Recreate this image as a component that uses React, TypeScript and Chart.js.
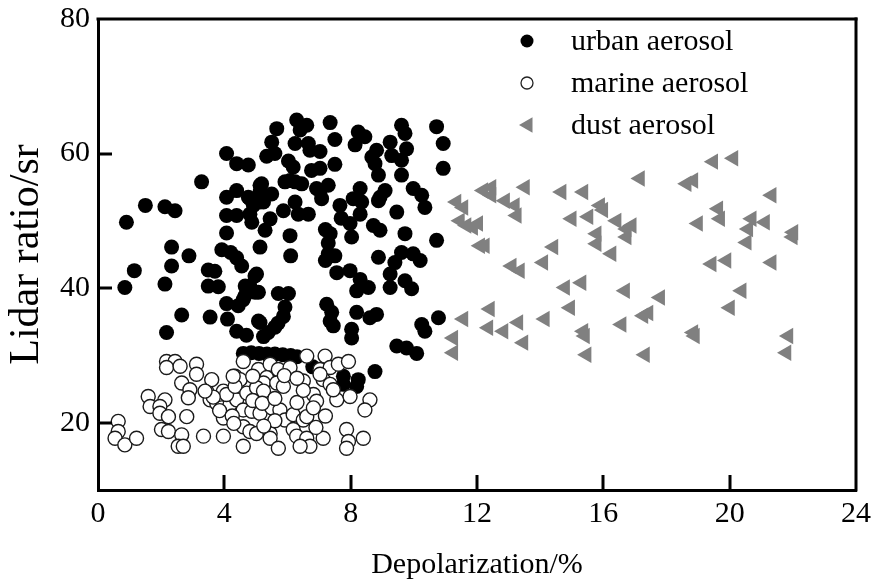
import React, { useEffect, useRef } from 'react';
import { Chart, registerables } from 'chart.js';

Chart.register(...registerables);

const seriesLabels = ['urban aerosol', 'marine aerosol', 'dust aerosol'];
const xTicks = [0, 4, 8, 12, 16, 20, 24];
const yTicks = [20, 40, 60, 80];
const xTitle = 'Depolarization/%';
const yTitle = 'Lidar ratio/sr';

const urbanPoints: number[][] = [
  [0.9, 49.8], [0.85, 40.1], [1.15, 42.6], [1.5, 52.3], [2.12, 52.1], [2.44, 51.5], [2.33, 46.1], [2.33, 43.3],
  [2.12, 40.6], [2.88, 44.8], [2.65, 36.0], [2.17, 33.4], [3.28, 55.8], [3.49, 42.7], [3.7, 42.5], [3.49, 40.3],
  [3.81, 40.2], [3.55, 35.7],
  [4.07, 60.0], [4.39, 58.5], [4.76, 58.3], [4.07, 53.5], [4.39, 54.5], [4.07, 50.8], [4.39, 50.8], [4.07, 48.2],
  [3.92, 45.7], [4.2, 45.3], [4.39, 44.5], [4.55, 43.3], [4.07, 37.7], [4.1, 35.4], [4.39, 33.6], [4.7, 33.0],
  [4.6, 38.3], [4.44, 37.4], [4.66, 40.3], [4.81, 40.3], [4.97, 41.8], [5.02, 42.1], [4.97, 39.4], [5.08, 39.4],
  [5.13, 46.1], [5.08, 35.1], [5.13, 34.9], [4.81, 53.3], [4.76, 53.5], [4.92, 52.3], [4.87, 49.8], [4.81, 51.0],
  [5.13, 55.3], [5.13, 54.3], [5.18, 55.5], [5.24, 52.8], [5.13, 52.8], [5.29, 48.6], [5.5, 54.0], [5.45, 50.3],
  [5.34, 59.6], [5.6, 60.0], [5.66, 63.7], [5.5, 61.7], [6.03, 58.9], [6.18, 58.0], [6.08, 56.0], [5.92, 55.8],
  [6.24, 55.8], [6.45, 55.5], [6.29, 65.0], [6.61, 64.2], [6.4, 63.5], [6.24, 61.5], [6.66, 61.5], [6.71, 60.5],
  [7.03, 60.3], [7.03, 57.8], [6.76, 57.5], [7.35, 64.6], [7.5, 62.1], [7.5, 58.4], [5.87, 51.5], [6.24, 52.8],
  [6.34, 51.0], [6.66, 51.0], [6.92, 54.8], [7.03, 54.5], [7.29, 55.3], [7.08, 53.3], [7.66, 52.3], [7.7, 50.4],
  [6.08, 47.8], [6.1, 44.8], [7.2, 48.7], [7.29, 46.7], [7.2, 44.1], [7.5, 44.8], [7.56, 42.3], [7.24, 37.6],
  [7.35, 35.1], [7.4, 36.4], [7.45, 34.4], [5.71, 39.2], [6.03, 39.2], [5.92, 37.2], [5.87, 35.8], [5.7, 34.8],
  [5.6, 34.2], [5.39, 33.4], [5.24, 32.8], [4.66, 38.9],
  [4.6, 30.3], [4.85, 30.4], [5.1, 30.3], [5.35, 30.2], [5.6, 30.2], [5.85, 30.1], [6.1, 30.0], [6.3, 29.8],
  [8.24, 63.2], [8.45, 62.5], [8.14, 61.3], [8.82, 60.5], [8.67, 59.5], [8.77, 58.5], [9.25, 61.7], [9.3, 59.7],
  [9.61, 64.2], [9.72, 63.0], [9.77, 60.7], [9.61, 59.0], [9.61, 56.8], [8.88, 56.8], [10.72, 64.0], [10.93, 61.5],
  [10.93, 57.8], [8.3, 54.8], [8.08, 53.3], [8.35, 52.8], [8.3, 51.0], [8.93, 53.5], [9.09, 54.5], [8.88, 53.0],
  [7.98, 49.6], [8.03, 47.6], [7.35, 48.1], [8.72, 49.3], [8.93, 48.6], [9.46, 51.3], [9.98, 54.8], [10.25, 53.8],
  [10.35, 52.0], [9.72, 48.1], [10.72, 47.1], [8.88, 44.6], [9.61, 45.3], [9.4, 43.8], [9.98, 45.1], [10.2, 44.1],
  [9.25, 42.1], [9.72, 41.1], [9.25, 40.1], [9.93, 39.9], [7.98, 42.6], [8.3, 41.3], [8.19, 39.6], [8.56, 40.1],
  [7.29, 45.1], [8.03, 33.9], [8.19, 36.4], [8.61, 35.6], [8.82, 36.1], [8.03, 32.6], [10.25, 34.6], [10.35, 33.6],
  [10.78, 35.6], [9.46, 31.4], [9.77, 31.1], [10.09, 30.3], [8.77, 27.6], [8.24, 26.4], [8.19, 25.4], [7.77, 26.9],
  [7.77, 25.7], [6.8, 28.3],
];

const marinePoints: number[][] = [
  [2.17, 29.1], [2.44, 29.1], [2.17, 28.2], [2.6, 28.4], [3.12, 28.7], [3.12, 27.2], [2.65, 25.9], [2.91, 24.9],
  [2.86, 23.7], [1.59, 23.9], [2.12, 23.4], [1.65, 22.4], [1.96, 22.4], [1.96, 21.4], [2.23, 20.9], [2.81, 20.9],
  [0.64, 20.2], [0.64, 18.7], [0.54, 17.7], [0.85, 16.7], [1.22, 17.7], [2.01, 19.0], [2.23, 18.7], [2.65, 18.2],
  [2.54, 16.5], [2.7, 16.5], [3.34, 18.0], [3.97, 18.0], [4.6, 16.5], [3.44, 24.7], [3.55, 23.4], [3.76, 22.9],
  [3.92, 22.2], [4.02, 21.2], [3.97, 20.7], [4.18, 22.7], [4.39, 23.4], [3.97, 24.7], [4.07, 24.2], [4.34, 26.9],
  [4.5, 26.4], [4.34, 25.4], [4.71, 24.4], [4.6, 29.1], [5.08, 27.9], [5.45, 28.7], [5.71, 27.9], [6.08, 28.2],
  [5.34, 26.7], [5.24, 25.9], [5.66, 25.9], [5.87, 25.4], [5.02, 25.2], [5.24, 24.7], [4.6, 21.9], [4.87, 21.7],
  [5.13, 21.4], [5.5, 22.2], [5.76, 21.9], [5.92, 20.4], [6.18, 21.2], [6.5, 20.4], [6.61, 20.9], [4.6, 19.4],
  [4.81, 18.7], [5.02, 18.4], [5.45, 18.4], [5.45, 17.7], [6.18, 19.0], [6.29, 18.0], [6.61, 17.7], [6.71, 16.5],
  [5.71, 16.2], [6.4, 16.5], [7.13, 17.7], [7.87, 19.0], [7.93, 17.2], [7.87, 16.2], [8.4, 17.7], [6.61, 29.9],
  [7.19, 29.9], [7.03, 27.9], [7.35, 28.2], [7.61, 28.7], [7.93, 29.1], [6.5, 26.2], [7.13, 26.4], [7.35, 25.7],
  [6.82, 24.2], [6.92, 23.2], [6.82, 22.2], [7.56, 23.4], [7.98, 23.9], [8.61, 23.4], [8.45, 21.9], [7.45, 24.9],
  [3.65, 23.8], [3.85, 21.8], [4.25, 21.0], [4.9, 23.3], [5.2, 22.9], [5.6, 23.6], [6.3, 23.0], [6.5, 24.8],
  [5.9, 27.0], [6.3, 26.6], [4.9, 26.9], [5.6, 20.3], [5.25, 19.5], [7.2, 21.0], [6.9, 19.3], [4.3, 19.9],
  [3.6, 26.4], [3.39, 24.7], [4.28, 26.9], [7.03, 27.2],
];

const dustPoints: number[][] = [
  [11.35, 52.8], [11.57, 52.0], [11.46, 50.0], [11.67, 49.3], [11.88, 49.0], [12.04, 49.6], [12.1, 46.3], [12.25, 46.3],
  [12.2, 54.5], [12.46, 55.0], [12.46, 53.8], [12.89, 53.0], [13.2, 52.3], [13.26, 50.8], [13.52, 55.0], [13.1, 43.3],
  [13.36, 42.6], [14.1, 43.8], [14.42, 46.1], [14.68, 54.3], [15.37, 54.3], [15.0, 50.3], [15.53, 50.6], [15.9, 52.3],
  [16.0, 51.6], [15.79, 48.1], [15.79, 46.6], [16.26, 45.1], [16.42, 50.0], [16.74, 48.8], [16.9, 49.3], [16.74, 47.6],
  [17.16, 56.3], [14.79, 40.1], [15.31, 40.8], [14.95, 37.1], [16.69, 39.6], [11.57, 35.4], [12.41, 36.9], [12.36, 34.1],
  [12.84, 33.6], [13.31, 34.9], [13.47, 31.9], [14.15, 35.4], [11.25, 32.6], [11.25, 30.4], [15.37, 33.6], [15.42, 32.9],
  [15.47, 30.1], [16.58, 34.6], [17.27, 35.9], [17.43, 36.3], [17.32, 30.1], [18.64, 55.5], [18.85, 56.0], [19.48, 58.8],
  [20.12, 59.3], [21.33, 53.8], [19.0, 49.6], [19.64, 51.8], [19.7, 50.3], [20.7, 50.3], [20.59, 48.8], [21.12, 49.8],
  [20.54, 46.8], [22.02, 48.3], [22.0, 47.6], [19.43, 43.6], [19.9, 44.1], [21.33, 43.8], [17.8, 38.6], [20.38, 39.6],
  [20.01, 37.1], [18.85, 33.4], [18.9, 32.9], [21.86, 32.9], [21.8, 30.4],
];

const FONT = '"Liberation Serif", "Times New Roman", serif';

const framePlugin = {
  id: 'frameAndLegend',
  afterDatasetsDraw(chart: any) {
    const ctx = chart.ctx as CanvasRenderingContext2D;
    const area = chart.chartArea;
    const left = area.left;
    const top = area.top;
    const right = area.right;
    const bottom = area.bottom;
    ctx.save();
    ctx.fillStyle = '#000000';
    // top and right frame lines
    ctx.fillRect(left - 1.5, top - 1.5, right - left + 3, 3);
    ctx.fillRect(right - 1.5, top - 1.5, 3, bottom - top + 3);

    // inward tick marks placed with the library's scales
    const xs = chart.scales['x'];
    const ys = chart.scales['y'];
    xTicks.forEach((v) => {
      const px = xs.getPixelForValue(v);
      if (px > left + 4 && px < right - 4) {
        ctx.fillRect(Math.round(px) - 1.5, bottom - 15, 3, 15);
      }
    });
    yTicks.forEach((v) => {
      const py = ys.getPixelForValue(v);
      if (py > top + 4 && py < bottom - 4) {
        ctx.fillRect(left, Math.round(py) - 1.5, 14, 3);
      }
    });

    // legend
    const mx = left + 430;
    const tx = left + 473;
    const rows = [top + 22, top + 64, top + 106];
    ctx.font = '30px ' + FONT;
    ctx.textBaseline = 'middle';
    ctx.textAlign = 'left';
    chart.data.datasets.forEach((ds: any, i: number) => {
      const y = rows[i];
      ctx.beginPath();
      if (i === 0) {
        ctx.arc(mx - 1, y, 6.5, 0, Math.PI * 2);
        ctx.fillStyle = '#000';
        ctx.fill();
      } else if (i === 1) {
        ctx.arc(mx - 1, y, 6, 0, Math.PI * 2);
        ctx.fillStyle = '#fff';
        ctx.fill();
        ctx.lineWidth = 1.3;
        ctx.strokeStyle = '#222';
        ctx.stroke();
      } else {
        const r = 9;
        ctx.moveTo(mx - r, y);
        ctx.lineTo(mx + r / 2, y - (r * Math.sqrt(3)) / 2);
        ctx.lineTo(mx + r / 2, y + (r * Math.sqrt(3)) / 2);
        ctx.closePath();
        ctx.fillStyle = '#808080';
        ctx.fill();
      }
      ctx.fillStyle = '#000';
      ctx.fillText(ds.label, tx, y + 1);
    });
    ctx.restore();
  },
};

const toXY = (pts: number[][]) => pts.map(([x, y]) => ({ x, y }));

const zeroPadding = (s: any) => {
  s.paddingTop = 0;
  s.paddingBottom = 0;
  s.paddingLeft = 0;
  s.paddingRight = 0;
};

export default function App() {
  const ref = useRef<HTMLCanvasElement>(null);
  useEffect(() => {
    document.body.style.margin = '0';
    document.body.style.background = '#fff';
    const canvas = ref.current as HTMLCanvasElement;
    const chart = new Chart(canvas, {
      type: 'scatter',
      data: {
        datasets: [
          {
            label: seriesLabels[0],
            data: toXY(urbanPoints),
            pointStyle: 'circle',
            pointRadius: 7.5,
            pointBackgroundColor: '#000',
            pointBorderColor: '#000',
            pointBorderWidth: 0,
            backgroundColor: '#000',
            borderColor: '#000',
            order: 2,
          },
          {
            label: seriesLabels[1],
            data: toXY(marinePoints),
            pointStyle: 'circle',
            pointRadius: 7,
            pointBackgroundColor: '#fff',
            pointBorderColor: '#1a1a1a',
            pointBorderWidth: 1.4,
            backgroundColor: '#fff',
            borderColor: '#1a1a1a',
            order: 1,
          },
          {
            label: seriesLabels[2],
            data: toXY(dustPoints),
            pointStyle: 'triangle',
            pointRotation: -90,
            pointRadius: 9.5,
            pointBackgroundColor: '#808080',
            pointBorderColor: '#808080',
            pointBorderWidth: 0,
            backgroundColor: '#808080',
            borderColor: '#808080',
            order: 0,
          },
        ] as any,
      },
      options: {
        responsive: false,
        animation: false,
        events: [],
        layout: { padding: { top: 19, right: 22, left: 0, bottom: 0 } },
        plugins: { legend: { display: false }, tooltip: { enabled: false } },
        scales: {
          x: {
            type: 'linear',
            position: 'bottom',
            min: 0,
            max: 24,
            afterBuildTicks: (s: any) => {
              s.ticks = xTicks.map((v) => ({ value: v }));
            },
            afterFit: (s: any) => {
              s.height = 96;
              zeroPadding(s);
            },
            ticks: { color: '#000', font: { family: FONT, size: 30 }, padding: 6, maxRotation: 0, autoSkip: false },
            grid: { display: false, drawTicks: false },
            border: { display: true, color: '#000', width: 3 },
            title: {
              display: true,
              text: xTitle,
              color: '#000',
              font: { family: FONT, size: 30 },
              padding: { top: 0, bottom: 3 },
            },
          },
          y: {
            type: 'linear',
            position: 'left',
            min: 10,
            max: 80,
            afterBuildTicks: (s: any) => {
              s.ticks = yTicks.map((v) => ({ value: v }));
            },
            afterFit: (s: any) => {
              s.width = 98;
              zeroPadding(s);
            },
            ticks: { color: '#000', font: { family: FONT, size: 30 }, padding: 8, autoSkip: false },
            grid: { display: false, drawTicks: false },
            border: { display: true, color: '#000', width: 3 },
            title: {
              display: true,
              text: yTitle,
              color: '#000',
              font: { family: FONT, size: 42 },
              padding: { top: 2, bottom: 0 },
            },
          },
        },
      } as any,
      plugins: [framePlugin],
    });
    return () => chart.destroy();
  }, []);
  return <canvas ref={ref} width={878} height={586} style={{ display: 'block' }} />;
}
